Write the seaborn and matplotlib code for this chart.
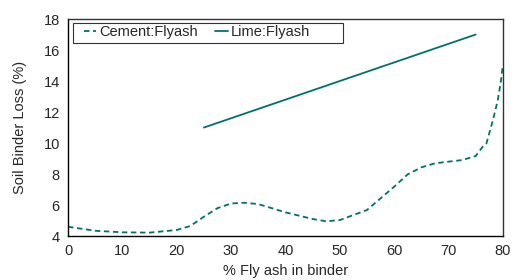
import numpy as np
import pandas as pd
import matplotlib
matplotlib.use("Agg")
import matplotlib.pyplot as plt
from matplotlib.patches import Rectangle
import seaborn as sns

# values
cement_x = [0, 5, 10, 15, 20, 22.5, 25, 27.5, 30, 32.5, 35, 40, 45, 47.5, 50, 55,
            57.5, 60, 62.5, 65, 67.5, 70, 72.5, 75, 76.3, 77, 78.2, 79.1, 79.7, 80]
cement_y = [4.6, 4.34, 4.24, 4.22, 4.39, 4.65, 5.25, 5.8, 6.1, 6.15, 6.06, 5.53, 5.1, 4.95, 5.03, 5.68,
            6.43, 7.18, 7.98, 8.43, 8.69, 8.8, 8.9, 9.16, 9.76, 9.98, 11.5, 12.8, 14.1, 15.0]
lime_x = [25, 75]
lime_y = [11, 17]

teal = "#00706f"
fs = 10.5

sns.set_style("white")
plt.rcParams['font.family'] = ['Liberation Sans', 'DejaVu Sans']

fig, ax = plt.subplots(figsize=(5.12, 2.8), dpi=100)
fig.subplots_adjust(left=0.133, right=0.982, bottom=0.157, top=0.932)

df_c = pd.DataFrame({"x": cement_x, "y": cement_y})
df_l = pd.DataFrame({"x": lime_x, "y": lime_y})
sns.lineplot(data=df_c, x="x", y="y", ax=ax, sort=False, color=teal, lw=1.3,
             linestyle=(0, (3, 2)), label="Cement:Flyash")
sns.lineplot(data=df_l, x="x", y="y", ax=ax, sort=False, color=teal, lw=1.3,
             label="Lime:Flyash")

ax.set_xlim(0, 80)
ax.set_ylim(4, 18)
ax.set_xticks(range(0, 81, 10))
ax.set_yticks(range(4, 19, 2))
ax.tick_params(length=0, labelsize=fs)
ax.tick_params(axis='y', pad=6)
ax.tick_params(axis='x', pad=6)
ax.set_xlabel("% Fly ash in binder", fontsize=fs, labelpad=4)
ax.set_ylabel("Soil Binder Loss (%)", fontsize=fs, labelpad=12)
for s in ax.spines.values():
    s.set_visible(True)
    s.set_color("#333333")
    s.set_linewidth(1.0)
ax.spines['left'].set_color("black")
ax.spines['bottom'].set_color("black")

# legend without its own frame; the wide box is drawn separately
leg = ax.legend(loc="upper left", ncol=2, fontsize=fs, frameon=False,
                handlelength=0.85, handletextpad=0.2, columnspacing=1.2,
                borderpad=0.2, borderaxespad=0, bbox_to_anchor=(0.03, 0.985))
ax.add_patch(Rectangle((0.011, 0.889), 0.621, 0.093, transform=ax.transAxes,
                       fill=False, edgecolor="#333333", lw=0.8, zorder=5))

plt.savefig("out.png", dpi=100)
